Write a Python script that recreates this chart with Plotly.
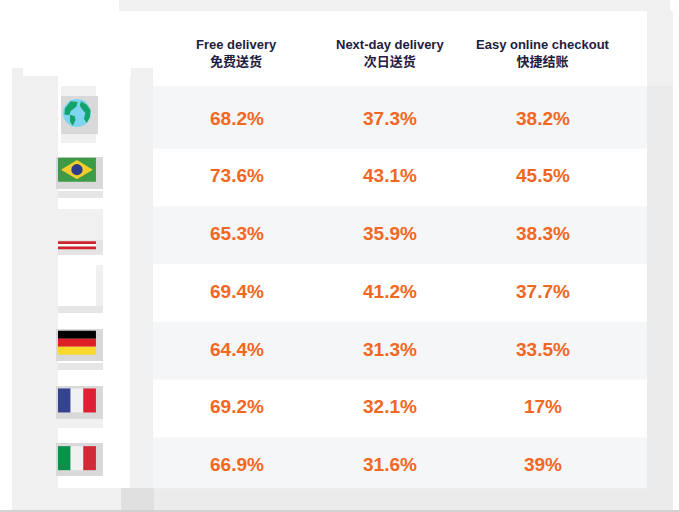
import plotly.graph_objects as go

# ---------------- data ----------------
rows = ["Global", "Brazil", "Austria", "Row4", "Germany", "France", "Italy"]
headers_en = ["Free delivery", "Next-day delivery", "Easy online checkout"]
headers_zh = ["免费送货", "次日送货", "快捷结账"]
free_delivery = [68.2, 73.6, 65.3, 69.4, 64.4, 69.2, 66.9]
next_day = [37.3, 43.1, 35.9, 41.2, 31.3, 32.1, 31.6]
easy_checkout = [38.2, 45.5, 38.3, 37.7, 33.5, 17, 39]
series = [free_delivery, next_day, easy_checkout]

# ---------------- style ----------------
W, H = 679, 512
ORANGE = "#f26722"
NAVY = "#1d2040"
BAND = "#f5f6f8"
FONT = "Liberation Sans, Arial, Noto Sans CJK SC, sans-serif"

X_RANGE = [-0.549, 3.889]     # columns: 0 = flags, 1..3 = data
Y_RANGE = [6.793, -2.080]     # rows, reversed
HEADER_Y = -1.16
FLAG_X = -0.046
FHW, FHH = 0.124, 0.208       # flag half width / half height (data units)

def px(x):
    return x / W

def py(y):
    return 1 - y / H

shapes = []

def prect(x0, y0, x1, y1, color, layer="below"):
    shapes.append(dict(type="rect", xref="paper", yref="paper",
                       x0=px(x0), x1=px(x1), y0=py(y1), y1=py(y0),
                       fillcolor=color, line=dict(width=0), layer=layer))

# ---- decorative background panels (screenshot framing) ----
prect(119, 0, 670, 11, "#f0f0f0")
prect(647, 11, 673, 86, "#f0f0f0")
prect(647, 86, 673, 488, "#ebebeb")
prect(12, 68, 23, 488, "#f0f0f0")
prect(23, 76, 58, 488, "#f0f0f0")
prect(131, 68, 153, 488, "#f0f0f0")
prect(130, 76, 131, 488, "#f0f0f0")
prect(12, 488, 121, 510, "#f0f0f0")
prect(121, 488, 154, 510, "#e0e0e0")
prect(154, 488, 673, 510, "#ebebeb")
prect(0, 510, 679, 512, "#d2d2d2")
# flag column shadows
prect(61, 86, 96, 143, "#f0f0f0")
prect(61, 96, 98, 134, "#d9d9d9")
prect(56, 157, 103, 189, "#d9d9d9")
prect(58, 191, 103, 198, "#e6e6e6")
prect(58, 209, 103, 240, "#f0f0f0")
prect(58, 240, 103, 255, "#e4e4e4")
prect(96, 265, 103, 306, "#f0f0f0")
prect(58, 306, 103, 313, "#e6e6e6")
prect(56, 329, 103, 361, "#d9d9d9")
prect(58, 363, 103, 370, "#e6e6e6")
prect(56, 386, 103, 419, "#d9d9d9")
prect(58, 419, 103, 428, "#f0f0f0")
prect(56, 443, 103, 476, "#d9d9d9")

# ---- row bands (data coords) ----
n = len(rows)
for i in range(n):
    top = -0.59 if i == 0 else i - 0.5
    bot = 6.38 if i == n - 1 else i + 0.5
    shapes.append(dict(type="rect", xref="x", yref="y", x0=0.451, x1=3.68,
                       y0=top, y1=bot, fillcolor=BAND if i % 2 == 0 else "white",
                       line=dict(width=0), layer="below"))

# ---- flags ----
def drect(x0, y0, x1, y1, color):
    shapes.append(dict(type="rect", xref="x", yref="y", x0=x0, x1=x1, y0=y0, y1=y1,
                       fillcolor=color, line=dict(width=0), layer="above"))

def dpath(pts, color):
    d = "M " + " L ".join(f"{a:.4f},{b:.4f}" for a, b in pts) + " Z"
    shapes.append(dict(type="path", xref="x", yref="y", path=d,
                       fillcolor=color, line=dict(width=0), layer="above"))

def vstripes(yc, cols):
    w = 2 * FHW / 3
    for k, c in enumerate(cols):
        drect(FLAG_X - FHW + k * w, yc - FHH, FLAG_X - FHW + (k + 1) * w, yc + FHH, c)

def hstripes(y0, y1, cols):
    h = (y1 - y0) / len(cols)
    for k, c in enumerate(cols):
        drect(FLAG_X - FHW, y0 + k * h, FLAG_X + FHW, y0 + (k + 1) * h, c)

def globe(yc):
    rx, ry = 0.0915, 0.243
    shapes.append(dict(type="circle", xref="x", yref="y", x0=FLAG_X - rx, x1=FLAG_X + rx,
                       y0=yc - ry, y1=yc + ry, fillcolor="#7fd5ef",
                       line=dict(width=0), layer="above"))
    blobs = [
        [(-0.85, -0.35), (-0.45, -0.85), (0.05, -0.8), (-0.05, -0.45), (-0.45, -0.15),
         (-0.55, 0.15), (-0.9, 0.1)],
        [(-0.5, 0.12), (-0.15, 0.22), (-0.1, 0.5), (-0.3, 0.9), (-0.5, 0.6)],
        [(0.3, -0.85), (0.7, -0.6), (0.97, -0.2), (0.92, 0.3), (0.7, 0.7), (0.5, 0.4),
         (0.6, 0.0), (0.35, -0.3), (0.2, -0.55)],
    ]
    for b in blobs:
        dpath([(FLAG_X + a * rx, yc + c * ry) for a, c in b], "#14a36a")

def brazil(yc):
    drect(FLAG_X - FHW, yc - FHH, FLAG_X + FHW, yc + FHH, "#3d9a47")
    dpath([(FLAG_X - FHW + 0.02, yc), (FLAG_X, yc - FHH + 0.04),
           (FLAG_X + FHW - 0.02, yc), (FLAG_X, yc + FHH - 0.04)], "#f4cd2a")
    shapes.append(dict(type="circle", xref="x", yref="y", x0=FLAG_X - 0.037, x1=FLAG_X + 0.037,
                       y0=yc - 0.097, y1=yc + 0.097, fillcolor="#2b3a8c",
                       line=dict(width=0), layer="above"))

OFF = -0.14
globe(0 - 0.12)
brazil(1 + OFF)
hstripes(2 + 0.10, 2 + 0.24, ["#d0232b", "#ffffff", "#d0232b"])
hstripes(4 + OFF - FHH, 4 + OFF + FHH, ["#000000", "#de1f26", "#f8d92c"])
vstripes(5 + OFF, ["#35428f", "#f1f1f1", "#dd2034"])
vstripes(6 + OFF, ["#0b914a", "#f1f1f1", "#cf2c37"])

# ---------------- figure ----------------
fig = go.Figure()
for c, vals in enumerate(series):
    fig.add_trace(go.Scatter(
        x=[c + 1] * len(rows), y=list(range(len(rows))),
        mode="text", text=[f"{v:g}%" for v in vals],
        textfont=dict(family=FONT, size=19, color=ORANGE, weight="bold"),
        hoverinfo="skip", showlegend=False))

annotations = []
for c, (en, zh) in enumerate(zip(headers_en, headers_zh)):
    annotations.append(dict(x=c + 1, y=HEADER_Y, xref="x", yref="y",
                            text=f"<b>{en}</b><br><b>{zh}</b>", showarrow=False,
                            font=dict(family=FONT, size=13, color=NAVY),
                            align="center"))

fig.update_layout(
    width=W, height=H, margin=dict(l=0, r=0, t=0, b=0),
    paper_bgcolor="white", plot_bgcolor="white",
    xaxis=dict(range=X_RANGE, visible=False, fixedrange=True),
    yaxis=dict(range=Y_RANGE, visible=False, fixedrange=True),
    shapes=shapes, annotations=annotations, showlegend=False,
)
fig.write_html("out.html", config={"displayModeBar": False},
               post_script="document.body.style.margin='0';document.body.style.overflow='hidden';")
